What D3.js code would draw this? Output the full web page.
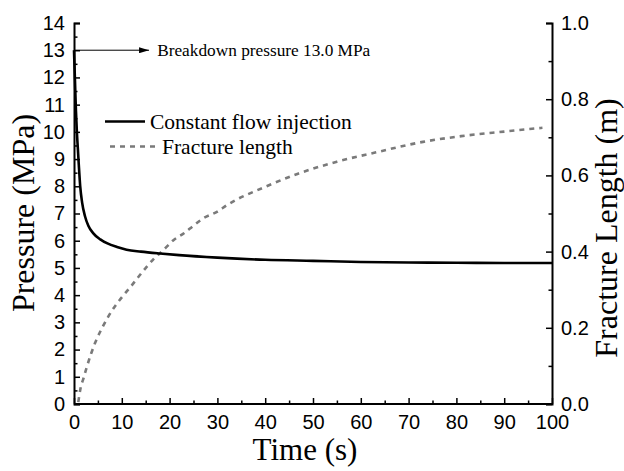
<!DOCTYPE html>
<html>
<head>
<meta charset="utf-8">
<script src="https://cdn.jsdelivr.net/npm/d3@7"></script>
<style>
  html, body { margin: 0; padding: 0; background: #fff; }
  svg { display: block; }
</style>
</head>
<body>
<svg id="chart" width="624" height="471"></svg>
<script>
// Injection pressure under constant flow (left axis)
const pressureTime = [0, 0.2, 0.4, 0.6, 0.8, 1.0, 1.3, 1.7, 2.3, 3, 4, 5.5, 7, 9, 11, 14, 18, 22, 30, 40, 50, 60, 70, 80, 90, 100];
const pressureMPa  = [13.0, 11.9, 10.8, 10.0, 9.4, 8.8, 8.0, 7.4, 6.9, 6.55, 6.28, 6.05, 5.9, 5.77, 5.67, 5.6, 5.53, 5.47, 5.38, 5.3, 5.26, 5.22, 5.2, 5.19, 5.18, 5.18];

// Fracture length growth (right axis)
const fractureTime   = [0.9, 1.3, 2.0, 2.7, 4.4, 6.1, 8.2, 10, 12, 13.5, 15.2, 17, 18.7, 20.8, 23, 25, 27, 30, 32, 40, 47, 55, 63, 73, 81, 90, 98];
const fractureLength = [0.005, 0.037, 0.068, 0.098, 0.16, 0.205, 0.25, 0.28, 0.31, 0.334, 0.36, 0.385, 0.404, 0.43, 0.448, 0.468, 0.487, 0.505, 0.522, 0.57, 0.605, 0.636, 0.66, 0.688, 0.703, 0.715, 0.725];

const timeTicks = [0, 10, 20, 30, 40, 50, 60, 70, 80, 90, 100];
const pressureTicks = [0, 1, 2, 3, 4, 5, 6, 7, 8, 9, 10, 11, 12, 13, 14];
const lengthTicks = [0.0, 0.2, 0.4, 0.6, 0.8, 1.0];
const breakdownPressure = 13.0;

const legendLabels = ["Constant flow injection", "Fracture length"];

const svg = d3.select("#chart");
const m = { left: 74, right: 552, top: 23, bottom: 404 };

const x = d3.scaleLinear().domain([0, 100]).range([m.left, m.right]);
const yP = d3.scaleLinear().domain([0, 14]).range([m.bottom, m.top]);
const yL = d3.scaleLinear().domain([0, 1]).range([m.bottom, m.top]);

const tickFont = "'Liberation Sans', Arial, sans-serif";
const serif = "'Liberation Serif', 'Times New Roman', serif";

// Minor ticks drawn first, majors on top
function minorTicks(g, axisGen, values) {
  g.call(axisGen.tickValues(values).tickSize(3.5).tickFormat(""));
  g.select(".domain").remove();
}

// Bottom axis: ticks point inward
const gx = svg.append("g").attr("transform", `translate(0,${m.bottom})`);
gx.append("g").call(g => minorTicks(g, d3.axisTop(x), d3.range(5, 100, 10)));
const gxMajor = gx.append("g").call(d3.axisTop(x).tickValues(timeTicks).tickSize(6).tickFormat(d3.format("d")));
gxMajor.selectAll("text").attr("dy", null).attr("y", 25);

// Left axis
const gy = svg.append("g").attr("transform", `translate(${m.left},0)`);
gy.append("g").call(g => minorTicks(g, d3.axisRight(yP), d3.range(0.5, 14, 1)));
const gyMajor = gy.append("g").call(d3.axisRight(yP).tickValues(pressureTicks).tickSize(6).tickFormat(d3.format("d")));
gyMajor.selectAll("text").attr("x", -9).attr("text-anchor", "end");

// Right axis
const gr = svg.append("g").attr("transform", `translate(${m.right},0)`);
gr.append("g").call(g => minorTicks(g, d3.axisLeft(yL), [0.1, 0.3, 0.5, 0.7, 0.9]));
const grMajor = gr.append("g").call(d3.axisLeft(yL).tickValues(lengthTicks).tickSize(6).tickFormat(d3.format(".1f")));
grMajor.selectAll("text").attr("x", 9).attr("text-anchor", "start");

svg.selectAll(".tick line").attr("stroke", "#000").attr("stroke-width", 1.5);
svg.selectAll(".domain").attr("stroke", "#000").attr("stroke-width", 2);
svg.selectAll(".tick text").attr("font-family", tickFont).attr("font-size", 20).attr("fill", "#000");
gxMajor.select(".domain").attr("d", `M${m.left},0H${m.right}`);

// Curves
const linePressure = d3.line().x((d, i) => x(pressureTime[i])).y(d => yP(d)).curve(d3.curveMonotoneX);
const lineLength = d3.line().x((d, i) => x(fractureTime[i])).y(d => yL(d)).curve(d3.curveMonotoneX);

svg.append("path")
  .datum(fractureLength)
  .attr("d", lineLength)
  .attr("fill", "none")
  .attr("stroke", "#7a7a7a")
  .attr("stroke-width", 2.6)
  .attr("stroke-dasharray", "5,5");

svg.append("path")
  .datum(pressureMPa)
  .attr("d", linePressure)
  .attr("fill", "none")
  .attr("stroke", "#000")
  .attr("stroke-width", 2.6);

// Breakdown annotation
svg.append("defs").append("marker")
  .attr("id", "arrow").attr("viewBox", "0 0 10 6").attr("refX", 10).attr("refY", 3)
  .attr("markerWidth", 10).attr("markerHeight", 6).attr("markerUnits", "userSpaceOnUse")
  .attr("orient", "auto")
  .append("path").attr("d", "M0,0L10,3L0,6Z").attr("fill", "#000");

svg.append("line")
  .attr("x1", x(0)).attr("x2", x(15.7))
  .attr("y1", yP(breakdownPressure)).attr("y2", yP(breakdownPressure))
  .attr("stroke", "#000").attr("stroke-width", 1)
  .attr("marker-end", "url(#arrow)");

svg.append("text")
  .attr("x", x(17.4)).attr("y", yP(breakdownPressure) + 5.5)
  .attr("font-family", serif).attr("font-size", 17.3)
  .text(`Breakdown pressure ${breakdownPressure.toFixed(1)} MPa`);

// Legend
const legend = svg.append("g");
legend.append("line").attr("x1", 105).attr("x2", 145).attr("y1", 121.5).attr("y2", 121.5)
  .attr("stroke", "#000").attr("stroke-width", 2.6);
legend.append("text").attr("x", 150).attr("y", 128.5)
  .attr("font-family", serif).attr("font-size", 21.5).text(legendLabels[0]);
legend.append("line").attr("x1", 110).attr("x2", 158).attr("y1", 146.5).attr("y2", 146.5)
  .attr("stroke", "#7a7a7a").attr("stroke-width", 2.6).attr("stroke-dasharray", "5,5");
legend.append("text").attr("x", 162).attr("y", 153.5)
  .attr("font-family", serif).attr("font-size", 21.5).text(legendLabels[1]);

// Axis titles
svg.append("text")
  .attr("transform", "translate(34,213) rotate(-90)")
  .attr("text-anchor", "middle").attr("font-family", serif).attr("font-size", 32)
  .text("Pressure (MPa)");

svg.append("text")
  .attr("x", 305).attr("y", 460)
  .attr("text-anchor", "middle").attr("font-family", serif).attr("font-size", 31)
  .text("Time (s)");

svg.append("text")
  .attr("transform", "translate(617,228) rotate(-90)")
  .attr("text-anchor", "middle").attr("font-family", serif).attr("font-size", 32)
  .text("Fracture Length (m)");
</script>
</body>
</html>
